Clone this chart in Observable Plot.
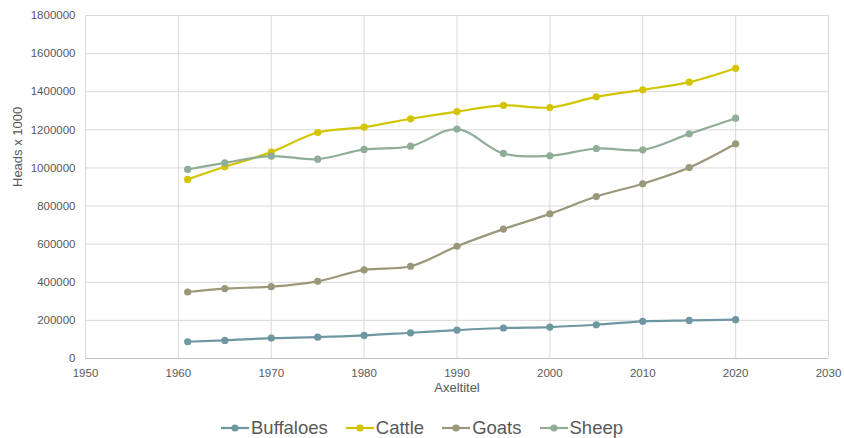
<!DOCTYPE html>
<html>
<head>
<meta charset="utf-8">
<script src="https://cdn.jsdelivr.net/npm/d3@7"></script>
<script src="https://cdn.jsdelivr.net/npm/@observablehq/plot@0.6"></script>
<style>
  html, body { margin: 0; padding: 0; background: #ffffff; }
  body { width: 844px; height: 438px; overflow: hidden; position: relative; font-family: "Liberation Sans", Arial, sans-serif; }
  #chart { position: absolute; left: 0; top: 0; }
  #legend { position: absolute; left: 0; top: 412px; width: 844px; height: 32px; display: flex; justify-content: center; align-items: center; color: #595959; font-size: 18.5px; }
  .item { display: flex; align-items: center; margin: 0 9px; }
  .item svg { margin-right: 2px; }
</style>
</head>
<body>
<div id="chart"></div>
<div id="legend"></div>
<script>
// Livestock stocks, heads x 1000
const years = [1961, 1965, 1970, 1975, 1980, 1985, 1990, 1995, 2000, 2005, 2010, 2015, 2020];
const buffaloes = [88000, 95000, 107000, 112000, 121000, 135000, 149000, 160000, 165000, 177000, 195000, 200000, 204000];
const cattle = [940000, 1006000, 1083000, 1186000, 1214000, 1258000, 1296000, 1328000, 1317000, 1373000, 1410000, 1450000, 1523000];
const goats = [349000, 367000, 377000, 405000, 465000, 484000, 589000, 679000, 759000, 850000, 917000, 1002000, 1127000];
const sheep = [992000, 1027000, 1062000, 1046000, 1097000, 1114000, 1204000, 1076000, 1064000, 1102000, 1095000, 1179000, 1261000];

const seriesNames = ["Buffaloes", "Cattle", "Goats", "Sheep"];
const seriesValues = [buffaloes, cattle, goats, sheep];
const colors = ["#6f97a2", "#d2c500", "#9b9779", "#8fad97"];

const xTicks = [1950, 1960, 1970, 1980, 1990, 2000, 2010, 2020, 2030];
const yTicks = [0, 200000, 400000, 600000, 800000, 1000000, 1200000, 1400000, 1600000, 1800000];

const rows = seriesNames.flatMap((name, i) =>
  years.map((year, j) => ({series: name, year, value: seriesValues[i][j]}))
);

const textColor = "#595959";

const chart = Plot.plot({
  width: 844,
  height: 410,
  marginLeft: 85,
  marginRight: 16,
  marginTop: 15,
  marginBottom: 52,
  style: {fontFamily: "'Liberation Sans', Arial, sans-serif", fontSize: "11.5px", color: textColor, background: "#ffffff"},
  x: {domain: [1950, 2030], ticks: xTicks, tickFormat: "d", tickSize: 0, tickPadding: 10, label: null},
  y: {domain: [0, 1800000], ticks: yTicks, tickFormat: "d", tickSize: 0, tickPadding: 10, label: null},
  color: {domain: seriesNames, range: colors},
  marks: [
    Plot.gridX(xTicks, {stroke: "#d9d9d9", strokeOpacity: 1, strokeWidth: 1}),
    Plot.gridY(yTicks, {stroke: "#d9d9d9", strokeOpacity: 1, strokeWidth: 1}),
    Plot.ruleY([0], {stroke: "#bfbfbf", strokeWidth: 1}),
    Plot.line(rows, {x: "year", y: "value", z: "series", stroke: "series", strokeWidth: 2.2, curve: "catmull-rom"}),
    Plot.dot(rows, {x: "year", y: "value", fill: "series", r: 3.6, stroke: null}),
    Plot.text(["Axeltitel"], {frameAnchor: "bottom", dy: 33, fill: textColor, fontSize: 13}),
    Plot.text(["Heads x 1000"], {frameAnchor: "left", dx: -68, rotate: -90, fill: textColor, fontSize: 13})
  ]
});
document.getElementById("chart").appendChild(chart);

// Legend below the chart
const legend = document.getElementById("legend");
seriesNames.forEach((name, i) => {
  const item = document.createElement("div");
  item.className = "item";
  item.innerHTML =
    `<svg width="28" height="12"><line x1="0" y1="6" x2="28" y2="6" stroke="${colors[i]}" stroke-width="2.2"/>` +
    `<circle cx="14" cy="6" r="3.6" fill="${colors[i]}"/></svg><span>${name}</span>`;
  legend.appendChild(item);
});
</script>
</body>
</html>
